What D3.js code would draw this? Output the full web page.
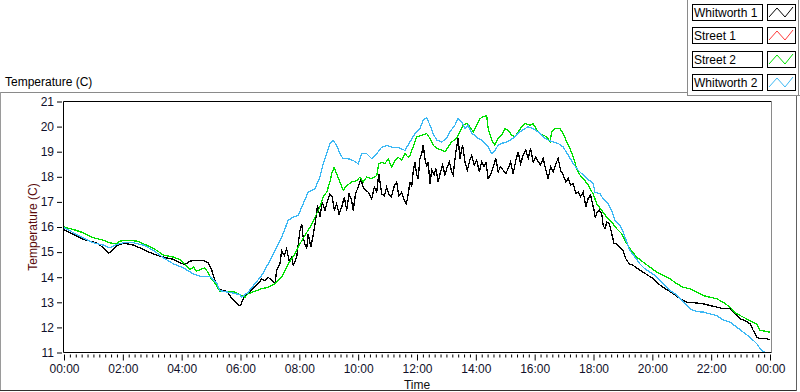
<!DOCTYPE html>
<html>
<head>
<meta charset="utf-8">
<script src="https://cdn.jsdelivr.net/npm/d3@7"></script>
<style>
  html, body { margin: 0; padding: 0; background: #ffffff; }
  svg { display: block; }
  text { font-family: "Liberation Sans", Arial, sans-serif; }
</style>
</head>
<body>
<svg id="chart" width="800" height="392"></svg>
<script>
// ---------------- DATA ----------------
const seriesNames = ["Whitworth 1", "Street 1", "Street 2", "Whitworth 2"];
const seriesColors = ["#000000", "#ff3a3a", "#00e000", "#3cb8f4"];
const xTickHours = [0, 2, 4, 6, 8, 10, 12, 14, 16, 18, 20, 22, 24];
const yTickValues = [11, 12, 13, 14, 15, 16, 17, 18, 19, 20, 21];
const chartTitle = "Temperature (C)";
const yAxisTitle = "Temperature (C)";
const xAxisTitle = "Time";

// [hour of day, temperature C]
const whitworth1 = [
  [0.00,15.90],[0.20,15.77],[0.43,15.64],[0.66,15.50],[0.88,15.44],[1.11,15.37],[1.34,15.17],[1.51,14.95],
  [1.62,15.04],[1.79,15.24],[1.96,15.33],[2.13,15.33],[2.36,15.28],[2.58,15.17],[2.81,15.04],[3.04,14.93],
  [3.26,14.84],[3.49,14.77],[3.72,14.71],[3.94,14.57],[4.11,14.50],[4.28,14.64],[4.51,14.67],[4.74,14.67],
  [4.91,14.57],[5.02,14.30],[5.10,13.97],[5.19,13.64],[5.30,13.50],[5.42,13.47],[5.53,13.44],[5.70,13.17],
  [5.87,12.97],[5.96,12.87],[6.02,12.92],[6.09,13.14],[6.26,13.34],[6.43,13.54],[6.60,13.74],[6.72,13.93],
  [6.83,13.87],[6.94,14.00],[7.06,13.87],[7.17,13.74],[7.23,14.27],[7.34,14.53],[7.40,15.06],[7.49,14.86],
  [7.57,15.13],[7.65,14.66],[7.74,14.80],[7.79,14.47],[7.91,14.80],[8.02,15.86],[8.08,16.13],[8.13,15.59],
  [8.19,15.33],[8.25,15.13],[8.30,15.73],[8.39,15.20],[8.47,15.66],[8.55,16.26],[8.62,16.86],[8.70,16.39],
  [8.78,16.99],[8.87,16.66],[8.96,17.06],[9.04,17.32],[9.12,17.19],[9.19,16.66],[9.27,16.92],[9.35,16.52],
  [9.44,16.79],[9.53,17.19],[9.61,16.66],[9.69,17.32],[9.78,17.06],[9.83,16.66],[9.91,17.32],[10.00,17.59],
  [10.09,17.92],[10.17,17.59],[10.25,17.46],[10.34,17.39],[10.46,17.12],[10.55,17.59],[10.63,17.39],[10.70,18.12],
  [10.80,17.32],[10.89,17.25],[10.97,17.59],[11.04,17.32],[11.13,17.19],[11.23,17.65],[11.31,17.79],[11.38,17.25],
  [11.48,17.39],[11.57,17.06],[11.64,16.92],[11.72,17.46],[11.76,17.80],[11.82,17.60],[11.87,18.20],[11.93,18.60],
  [11.99,18.07],[12.04,17.93],[12.10,18.73],[12.16,18.93],[12.21,19.26],[12.27,18.73],[12.33,18.40],[12.38,18.60],
  [12.44,17.73],[12.50,18.26],[12.58,18.07],[12.64,18.33],[12.72,17.80],[12.80,18.20],[12.87,18.47],[12.95,18.07],
  [13.03,18.40],[13.10,18.60],[13.18,18.20],[13.23,18.07],[13.32,18.99],[13.40,19.53],[13.46,18.73],[13.55,19.26],
  [13.63,18.60],[13.71,18.26],[13.78,18.60],[13.86,18.86],[13.94,18.47],[14.03,18.66],[14.12,18.20],[14.20,18.60],
  [14.28,18.40],[14.34,18.60],[14.42,17.93],[14.50,18.07],[14.59,18.40],[14.68,18.73],[14.76,18.20],[14.84,18.40],
  [14.93,18.26],[15.02,18.13],[15.10,18.33],[15.18,18.60],[15.27,18.13],[15.36,18.66],[15.44,18.99],[15.52,18.53],
  [15.61,18.86],[15.70,19.06],[15.78,18.73],[15.86,19.13],[15.95,18.60],[16.04,18.80],[16.12,18.60],[16.20,18.47],
  [16.29,18.73],[16.38,18.26],[16.46,17.93],[16.54,18.40],[16.63,18.20],[16.72,18.53],[16.80,18.73],[16.88,18.26],
  [16.97,18.07],[17.06,17.80],[17.14,17.93],[17.22,17.67],[17.31,17.73],[17.40,17.34],[17.48,17.40],[17.56,17.20],
  [17.65,17.40],[17.74,16.80],[17.82,17.14],[17.90,17.27],[17.94,17.06],[18.02,16.66],[18.06,16.39],[18.13,16.59],
  [18.20,16.66],[18.28,16.52],[18.33,16.06],[18.39,15.93],[18.45,16.19],[18.54,16.13],[18.62,15.73],[18.70,15.33],
  [18.79,15.33],[18.90,15.20],[19.01,15.06],[19.10,14.73],[19.22,14.53],[19.35,14.47],[19.52,14.33],[19.69,14.20],
  [19.86,14.07],[20.03,13.94],[20.20,13.74],[20.37,13.60],[20.54,13.47],[20.71,13.34],[20.88,13.20],[21.05,13.07],
  [21.17,13.00],[21.34,13.00],[21.51,12.97],[21.73,12.94],[21.96,12.87],[22.19,12.81],[22.41,12.74],[22.64,12.74],
  [22.81,12.54],[22.98,12.34],[23.15,12.27],[23.32,12.14],[23.43,11.88],[23.55,11.61],[23.66,11.55],[23.83,11.57],
  [24.00,11.50]
];

const street1 = [];

const street2 = [
  [0.00,16.00],[0.32,15.90],[0.66,15.77],[1.00,15.57],[1.34,15.47],[1.56,15.37],[1.79,15.33],[1.90,15.44],
  [2.13,15.47],[2.47,15.44],[2.81,15.28],[3.15,15.07],[3.38,14.88],[3.72,14.80],[3.94,14.71],[4.11,14.53],
  [4.28,14.30],[4.40,14.40],[4.51,14.24],[4.62,14.30],[4.79,14.37],[4.91,14.17],[5.02,13.90],[5.13,13.77],
  [5.30,13.44],[5.53,13.44],[5.76,13.44],[5.98,13.30],[6.15,13.20],[6.26,13.34],[6.49,13.44],[6.72,13.54],
  [6.94,13.60],[7.17,13.74],[7.40,14.00],[7.62,14.53],[7.85,14.93],[8.02,15.33],[8.19,15.66],[8.36,15.99],
  [8.53,16.39],[8.70,16.79],[8.81,17.19],[8.93,17.39],[9.04,17.79],[9.10,18.12],[9.18,18.36],[9.27,18.12],
  [9.38,17.79],[9.49,17.46],[9.61,17.65],[9.78,17.79],[9.95,17.85],[10.06,17.99],[10.17,17.79],[10.29,17.99],
  [10.46,17.92],[10.63,18.05],[10.70,18.52],[10.80,18.58],[10.91,18.52],[11.02,18.72],[11.14,18.38],[11.25,18.65],
  [11.36,18.78],[11.48,18.65],[11.59,18.92],[11.70,18.78],[11.76,18.86],[11.87,19.19],[11.99,19.59],[12.16,19.66],
  [12.33,19.72],[12.44,19.53],[12.55,19.26],[12.67,19.13],[12.84,19.06],[12.95,18.99],[13.06,19.19],[13.18,19.39],
  [13.35,19.53],[13.46,19.79],[13.57,20.06],[13.69,20.12],[13.80,19.99],[13.91,19.79],[14.03,20.06],[14.14,20.32],
  [14.25,20.39],[14.37,20.43],[14.42,19.92],[14.54,19.46],[14.65,19.26],[14.76,19.53],[14.88,19.66],[14.99,19.92],
  [15.10,19.86],[15.22,19.66],[15.33,19.59],[15.44,19.79],[15.56,19.99],[15.67,20.12],[15.84,20.06],[15.95,20.12],
  [16.07,19.86],[16.18,19.72],[16.29,19.66],[16.41,19.59],[16.52,19.39],[16.58,19.79],[16.69,19.92],[16.86,19.92],
  [16.97,19.72],[17.09,19.39],[17.20,19.13],[17.31,18.80],[17.43,18.33],[17.54,18.07],[17.65,17.93],[17.82,17.67],
  [17.88,17.52],[17.99,17.32],[18.11,16.92],[18.28,16.66],[18.45,16.39],[18.62,16.19],[18.79,15.93],[18.96,15.73],
  [19.07,15.46],[19.24,15.13],[19.47,14.80],[19.69,14.60],[19.92,14.40],[20.15,14.20],[20.37,14.07],[20.60,13.94],
  [20.83,13.74],[21.05,13.60],[21.28,13.54],[21.51,13.40],[21.73,13.27],[21.96,13.20],[22.19,13.14],[22.41,13.00],
  [22.64,12.81],[22.87,12.54],[23.09,12.41],[23.32,12.27],[23.55,12.14],[23.66,11.88],[23.83,11.85],[24.00,11.81]
];

const whitworth2 = [
  [0.00,15.97],[0.32,15.77],[0.66,15.57],[1.00,15.37],[1.34,15.28],[1.56,15.17],[1.79,15.30],[2.02,15.37],
  [2.36,15.37],[2.70,15.28],[3.04,15.07],[3.38,14.77],[3.72,14.53],[4.06,14.37],[4.40,14.13],[4.62,14.04],
  [4.96,14.04],[5.19,13.77],[5.30,13.47],[5.53,13.41],[5.76,13.37],[5.98,13.30],[6.04,13.20],[6.26,13.40],
  [6.49,13.74],[6.72,14.07],[6.94,14.53],[7.17,15.06],[7.40,15.59],[7.62,16.26],[7.79,16.39],[7.96,16.46],
  [8.13,16.92],[8.30,17.39],[8.53,17.52],[8.70,17.99],[8.81,18.52],[8.93,18.92],[9.04,19.31],[9.15,19.45],
  [9.27,19.25],[9.38,18.92],[9.49,18.72],[9.66,18.72],[9.83,18.65],[10.00,18.52],[10.12,18.92],[10.29,18.92],
  [10.46,18.72],[10.63,18.92],[10.80,19.18],[10.97,19.25],[11.14,19.18],[11.36,19.18],[11.59,19.05],[11.76,19.39],
  [11.93,19.72],[12.10,19.92],[12.21,20.26],[12.33,20.35],[12.44,20.06],[12.55,19.72],[12.67,19.46],[12.84,19.39],
  [13.01,19.53],[13.12,19.79],[13.29,20.06],[13.40,20.32],[13.52,20.19],[13.63,19.92],[13.74,20.06],[13.86,19.72],
  [13.97,19.66],[14.08,19.53],[14.20,19.46],[14.31,19.33],[14.42,19.19],[14.54,18.93],[14.65,19.06],[14.76,19.26],
  [14.88,19.33],[15.05,19.39],[15.16,19.46],[15.33,19.59],[15.50,19.79],[15.67,19.92],[15.78,19.99],[15.95,19.92],
  [16.12,19.79],[16.29,19.59],[16.46,19.46],[16.63,19.39],[16.80,19.33],[16.97,19.19],[17.14,18.86],[17.31,18.53],
  [17.48,18.26],[17.65,18.07],[17.82,17.87],[17.88,17.85],[17.99,17.72],[18.05,17.39],[18.22,17.32],[18.33,17.12],
  [18.50,16.92],[18.62,16.66],[18.73,16.26],[18.90,16.06],[19.01,15.80],[19.13,15.40],[19.24,15.06],[19.41,14.80],
  [19.58,14.53],[19.75,14.33],[19.92,14.20],[20.09,14.07],[20.26,13.87],[20.43,13.67],[20.60,13.47],[20.77,13.34],
  [20.94,13.14],[21.11,12.94],[21.28,12.74],[21.51,12.63],[21.73,12.61],[21.96,12.54],[22.19,12.47],[22.41,12.30],
  [22.64,12.21],[22.87,12.01],[23.09,11.81],[23.32,11.61],[23.55,11.35],[23.71,11.08],[23.83,11.01],[24.00,11.01]
];

const allSeries = [whitworth1, street1, street2, whitworth2];

// ---------------- DRAW ----------------
const svg = d3.select("#chart");
const plot = { left: 63.5, right: 771.5, top: 101.5, bottom: 352.5 };

const x = d3.scaleLinear().domain([0, 24]).range([64, 770]);
const y = d3.scaleLinear().domain([11, 21]).range([plot.bottom, plot.top]);

// outer panel frame
const frame = svg.append("g");
frame.append("line").attr("x1", 0).attr("x2", 688).attr("y1", 92.5).attr("y2", 92.5).attr("stroke", "#8a8a8a");
frame.append("line").attr("x1", 0.5).attr("x2", 0.5).attr("y1", 92).attr("y2", 391).attr("stroke", "#9a9a9a");
frame.append("line").attr("x1", 0).attr("x2", 797).attr("y1", 390.5).attr("y2", 390.5).attr("stroke", "#303030");
frame.append("line").attr("x1", 796.5).attr("x2", 796.5).attr("y1", 96).attr("y2", 391).attr("stroke", "#606060");
frame.append("line").attr("x1", 687.5).attr("x2", 687.5).attr("y1", 0).attr("y2", 96).attr("stroke", "#8a8a8a");
frame.append("line").attr("x1", 687).attr("x2", 800).attr("y1", 95.5).attr("y2", 95.5).attr("stroke", "#8a8a8a");
frame.append("line").attr("x1", 798.5).attr("x2", 798.5).attr("y1", 0).attr("y2", 96).attr("stroke", "#8a8a8a");

// chart title
svg.append("text").attr("x", 5).attr("y", 86).attr("font-size", "12px").attr("fill", "#000").text(chartTitle);

// plot background
svg.append("rect").attr("x", plot.left).attr("y", plot.top)
  .attr("width", plot.right - plot.left).attr("height", plot.bottom - plot.top).attr("fill", "#ffffff");

svg.append("clipPath").attr("id", "clip").append("rect")
  .attr("x", plot.left).attr("y", plot.top - 1)
  .attr("width", plot.right - plot.left + 1).attr("height", plot.bottom - plot.top + 1);

// series lines (aliased, pixel-like)
const line = d3.line().x(d => x(d[0])).y(d => y(d[1]));
const lines = svg.append("g").attr("clip-path", "url(#clip)");
allSeries.forEach((s, i) => {
  if (!s.length) return;
  lines.append("path").datum(s).attr("d", line)
    .attr("fill", "none").attr("stroke", seriesColors[i]).attr("stroke-width", 1.3)
    .attr("shape-rendering", "crispEdges");
});

// plot frame
svg.append("line").attr("x1", plot.left).attr("x2", plot.right).attr("y1", plot.top).attr("y2", plot.top).attr("stroke", "#000");
svg.append("line").attr("x1", plot.left).attr("x2", plot.left).attr("y1", plot.top).attr("y2", plot.bottom).attr("stroke", "#000");
svg.append("line").attr("x1", plot.right).attr("x2", plot.right).attr("y1", plot.top).attr("y2", plot.bottom).attr("stroke", "#8a8a8a");
svg.append("line").attr("x1", plot.left).attr("x2", plot.right).attr("y1", plot.bottom).attr("y2", plot.bottom).attr("stroke", "#000");

const tickColor = "#10102a";
// y axis
const yAxis = d3.axisLeft(y).tickValues(yTickValues).tickSize(5).tickPadding(3).tickFormat(d3.format("d"));
const gy = svg.append("g").attr("transform", `translate(${plot.left - 1.5},0)`).call(yAxis);
gy.select(".domain").remove();
gy.selectAll(".tick line").attr("stroke", "#000");
gy.selectAll(".tick text").attr("font-size", "12px").attr("fill", tickColor).attr("font-family", "Liberation Sans, Arial, sans-serif");

// x axis minor ticks (every 12 minutes)
const minorTicks = d3.range(0, 24.0001, 0.2).filter(v => Math.abs(v / 2 - Math.round(v / 2)) > 1e-6);
const xMinor = d3.axisBottom(x).tickValues(minorTicks).tickSize(3).tickFormat("");
const gxm = svg.append("g").attr("transform", `translate(0,${plot.bottom + 2})`).call(xMinor);
gxm.select(".domain").remove();
gxm.selectAll(".tick line").attr("stroke", "#000");

// x axis major
const fmt = h => String(h % 24).padStart(2, "0") + ":00";
const xAxis = d3.axisBottom(x).tickValues(xTickHours).tickSize(6).tickPadding(4).tickFormat(fmt);
const gx = svg.append("g").attr("transform", `translate(0,${plot.bottom + 2})`).call(xAxis);
gx.select(".domain").remove();
gx.selectAll(".tick line").attr("stroke", "#000");
gx.selectAll(".tick text").attr("font-size", "12px").attr("fill", tickColor).attr("font-family", "Liberation Sans, Arial, sans-serif");

// axis titles
svg.append("text").attr("x", 417).attr("y", 389).attr("text-anchor", "middle")
  .attr("font-size", "12px").attr("fill", "#101010").text(xAxisTitle);
svg.append("text").attr("transform", `translate(37,${(plot.top + plot.bottom) / 2}) rotate(-90)`)
  .attr("text-anchor", "middle").attr("font-size", "12px").attr("fill", "#5a0a0a").text(yAxisTitle);

// legend
const legend = svg.append("g");
seriesNames.forEach((name, i) => {
  const top = 4 + i * 23.4;
  const g = legend.append("g").attr("transform", `translate(0,${Math.round(top)})`);
  g.append("rect").attr("x", 692.5).attr("y", 0.5).attr("width", 70).attr("height", 16)
    .attr("fill", "#fff").attr("stroke", "#000");
  g.append("text").attr("x", 694).attr("y", 13).attr("font-size", "12px").attr("fill", "#000").text(name);
  g.append("rect").attr("x", 767.5).attr("y", 0.5).attr("width", 28).attr("height", 16)
    .attr("fill", "#fff").attr("stroke", "#000");
  g.append("path").attr("d", "M769,13 L777,4 L785,13 L793,3")
    .attr("fill", "none").attr("stroke", seriesColors[i]).attr("stroke-width", 1);
});
</script>
</body>
</html>
